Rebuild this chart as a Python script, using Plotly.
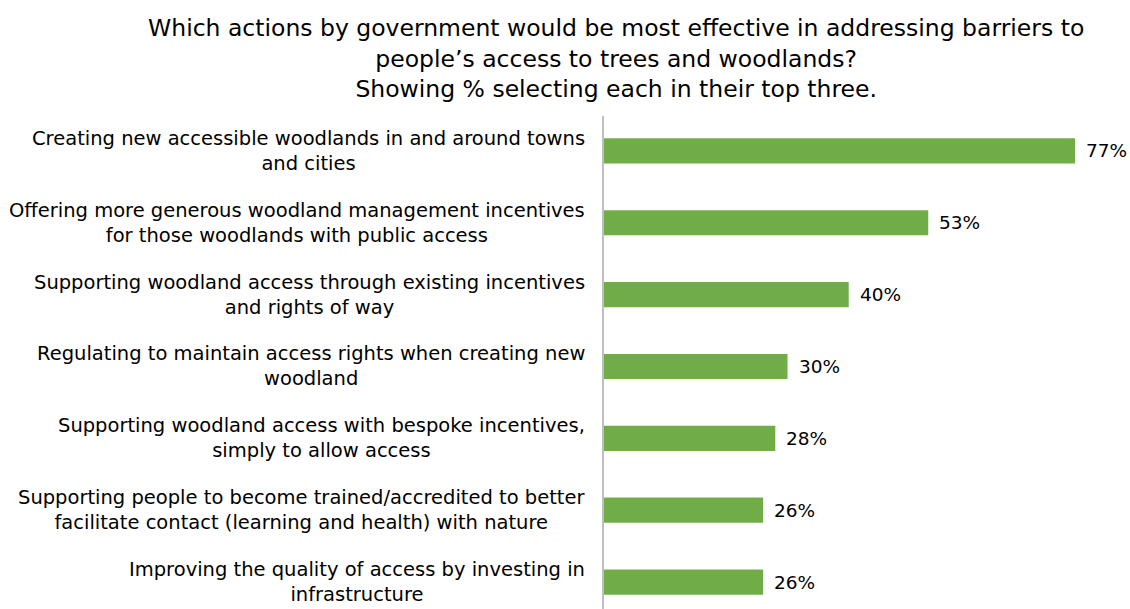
import plotly.graph_objects as go

# Survey results: share of respondents picking each action in their top three
actions = [
    "Creating new accessible woodlands in and around towns<br>and cities",
    "Offering more generous woodland management incentives<br>for those woodlands with public access",
    "Supporting woodland access through existing incentives<br>and rights of way",
    "Regulating to maintain access rights when creating new<br>woodland",
    "Supporting woodland access with bespoke incentives,<br>simply to allow access",
    "Supporting people to become trained/accredited to better<br>facilitate contact (learning and health) with nature",
    "Improving the quality of access by investing in<br>infrastructure",
]
percent = [77, 53, 40, 30, 28, 26, 26]

title_text = (
    "Which actions by government would be most effective in addressing barriers to<br>"
    "people\u2019s access to trees and woodlands?<br>"
    "Showing % selecting each in their top three."
)

FONT = "DejaVu Sans, Liberation Sans, Arial, sans-serif"
BAR_GREEN = "#70AD47"
TEXT_COLOR = "#000000"

W, H = 1130, 609
PLOT_LEFT, PLOT_TOP = 604, 116
plot_w = W - PLOT_LEFT - 6
plot_h = H - PLOT_TOP

fig = go.Figure(
    go.Bar(
        x=percent,
        y=list(range(len(actions))),
        orientation="h",
        marker=dict(color=BAR_GREEN, line=dict(width=0)),
        width=0.35,
        hoverinfo="skip",
    )
)

# value labels to the right of each bar
for i, v in enumerate(percent):
    fig.add_annotation(
        x=v, y=i, xref="x", yref="y",
        text=f"{v}%", showarrow=False,
        xanchor="left", yanchor="middle", xshift=9,
        font=dict(family=FONT, size=18.5, color=TEXT_COLOR),
    )

# category labels, centred line-by-line, right edge left of the axis
for i, label in enumerate(actions):
    fig.add_annotation(
        x=0, y=i, xref="x", yref="y",
        text=label, showarrow=False,
        xanchor="right", yanchor="middle", align="center", xshift=-17,
        font=dict(family=FONT, size=19.5, color=TEXT_COLOR),
    )

# three-line heading above the plot
fig.add_annotation(
    x=(616 - PLOT_LEFT) / plot_w, y=(H - 12) / plot_h,
    xref="paper", yref="paper",
    text=title_text, showarrow=False,
    xanchor="center", yanchor="top", align="center",
    font=dict(family=FONT, size=23.5, color=TEXT_COLOR),
)

fig.update_layout(
    width=W,
    height=H,
    margin=dict(l=PLOT_LEFT, r=6, t=PLOT_TOP, b=0, pad=0),
    paper_bgcolor="white",
    plot_bgcolor="white",
    showlegend=False,
    xaxis=dict(
        range=[0, 85],
        showgrid=False, zeroline=False, showticklabels=False,
        showline=False, ticks="",
    ),
    yaxis=dict(
        range=[6.375, -0.486],
        showgrid=False, zeroline=False, showticklabels=False,
        showline=True, linecolor="#BFBFBF", linewidth=1.5, ticks="",
    ),
)

fig.write_html("out.html")
